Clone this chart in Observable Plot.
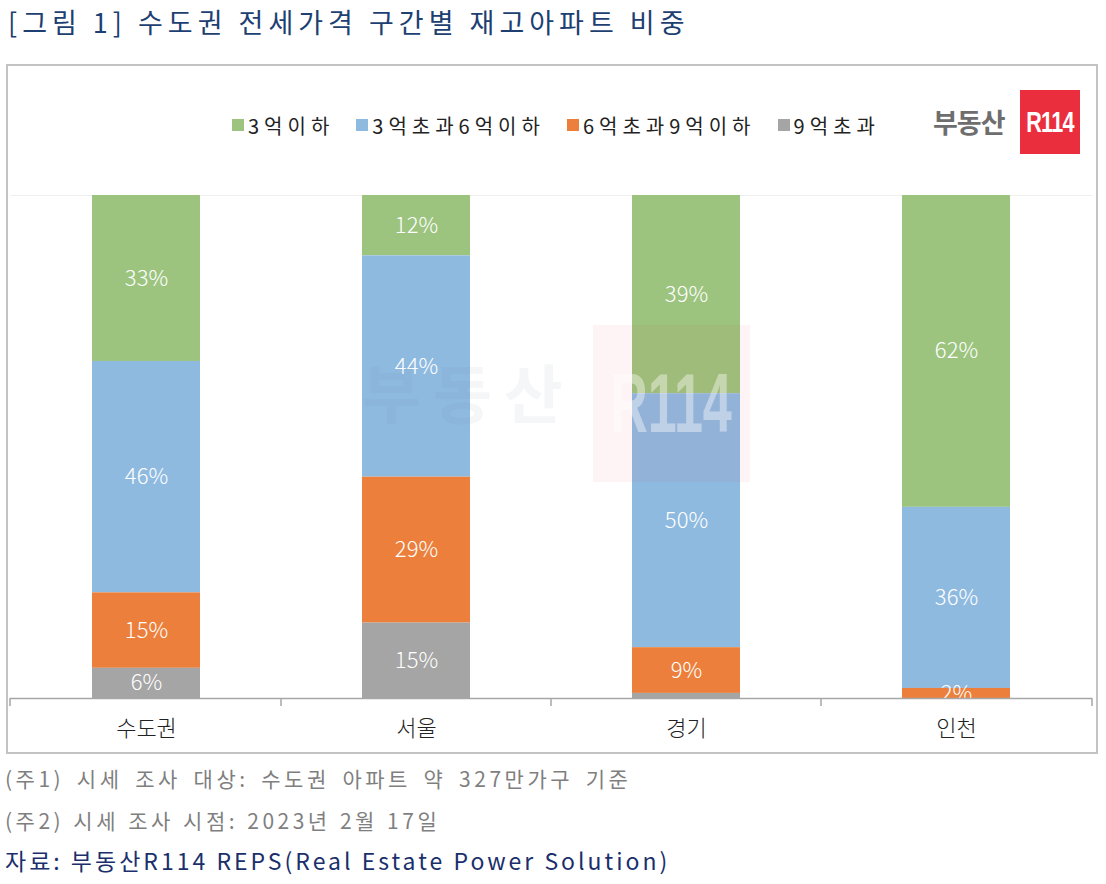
<!DOCTYPE html>
<html><head><meta charset="utf-8">
<script src="https://cdn.jsdelivr.net/npm/d3@7"></script>
<script src="https://cdn.jsdelivr.net/npm/@observablehq/plot@0.6"></script>
<style>
body{margin:0;width:1106px;height:884px;position:relative;background:#fff;font-family:"Noto Sans CJK KR","Noto Sans",sans-serif;overflow:hidden}
#title{position:absolute;left:8px;top:2px;font-size:27px;line-height:40px;color:#1d3f72;letter-spacing:5px;white-space:nowrap}
#box{position:absolute;left:6px;top:64px;width:1092px;height:690px;border:2px solid #c3c3c3;box-sizing:border-box}
#chart{position:absolute;left:0;top:160px}
#legend{position:absolute;left:232px;top:108px;height:34px}
#legend .lg-swatches{font-size:20px !important;font-family:"Noto Sans CJK KR",sans-serif !important;color:#222;letter-spacing:5px;min-height:34px;display:flex;align-items:center;flex-wrap:nowrap !important;white-space:nowrap}
#legend .lg-swatch{margin-right:22px !important;display:inline-flex;align-items:center}
#legend .lg-swatch > svg{margin-right:4px !important}
#logo-t{position:absolute;left:933px;top:100px;font-size:27px;line-height:44px;font-weight:bold;color:#6e6e6e;letter-spacing:-1px}
#logo-r{position:absolute;left:1020px;top:90px;width:60px;height:64px;background:#ea2e3e;overflow:hidden}
#logo-r span{position:absolute;left:30px;top:0;transform:translateX(-50%) scaleX(0.72);color:#fff;font-family:"Liberation Sans","DejaVu Sans",sans-serif;font-size:30px;font-weight:bold;line-height:64px;letter-spacing:-1px;white-space:nowrap}
.wm{position:absolute;pointer-events:none}
#wm-t{left:362px;top:345px;font-size:64px;font-weight:bold;color:rgba(90,110,140,0.06);line-height:90px;letter-spacing:12px;white-space:nowrap}
#wm-r{left:593px;top:325px;width:157px;height:157px;background:rgba(234,46,62,0.05);overflow:hidden}
#wm-r span{position:absolute;left:78px;top:0;transform:translateX(-50%) scaleX(0.62);color:rgba(255,255,255,0.4);font-size:84px;font-weight:bold;line-height:157px;font-family:"Liberation Sans",sans-serif;white-space:nowrap}
.note{position:absolute;left:5px;font-size:21px;color:#7f7f7f;letter-spacing:3.5px;white-space:nowrap;line-height:28px}
#src{position:absolute;left:5px;top:845px;font-size:23px;color:#1a2f6c;letter-spacing:3px;white-space:nowrap;line-height:30px}
</style></head>
<body>
<div id="title">[그림 1] 수도권 전세가격 구간별 재고아파트 비중</div>
<div id="box"></div>
<div id="legend"></div>
<div id="logo-t">부동산</div>
<div id="logo-r"><span>R114</span></div>
<div id="chart"></div>
<div class="wm" id="wm-t">부동산</div>
<div class="wm" id="wm-r"><span>R114</span></div>
<div class="note" style="top:764px;word-spacing:4.5px">(주1) 시세 조사 대상: 수도권 아파트 약 327만가구 기준</div>
<div class="note" style="top:806px;word-spacing:1px">(주2) 시세 조사 시점: 2023년 2월 17일</div>
<div id="src">자료: 부동산R114 REPS(Real Estate Power Solution)</div>
<script>
const categories = ["수도권", "서울", "경기", "인천"];
const series = ["3억이하", "3억초과6억이하", "6억초과9억이하", "9억초과"];
const colors = ["#9cc47f", "#8fbae0", "#ec7f3b", "#a5a5a5"];
const under3 = [33, 12, 39, 62];
const from3to6 = [46, 44, 50, 36];
const from6to9 = [15, 29, 9, 2];
const over9 = [6, 15, 1, 0];

const valuesBySeries = [under3, from3to6, from6to9, over9];
const data = [];
categories.forEach((c, i) => {
  series.forEach((s, j) => data.push({cat: c, series: s, value: valuesBySeries[j][i]}));
});
const stackOrder = series.slice().reverse();

const boundaryTicks = (index, scales, values, dims) => {
  const x = scales.x;
  const bw = typeof x.bandwidth === "function" ? x.bandwidth() : x.bandwidth;
  const xs = [dims.marginLeft];
  for (let i = 0; i < categories.length - 1; i++) {
    xs.push((x(categories[i]) + x(categories[i + 1])) / 2 + bw / 2);
  }
  xs.push(dims.width - dims.marginRight);
  const y0 = scales.y(0);
  const g = d3.create("svg:g");
  g.selectAll("line").data(xs).join("line")
    .attr("x1", d => d).attr("x2", d => d)
    .attr("y1", y0).attr("y2", y0 + 8)
    .attr("stroke", "#a6a6a6").attr("stroke-width", 1.5);
  return g.node();
};

const chart = Plot.plot({
  width: 1106,
  height: 590,
  marginLeft: 10,
  marginRight: 14,
  marginTop: 35,
  marginBottom: 52,
  style: {fontFamily: "'Noto Sans CJK KR', sans-serif", overflow: "visible", background: "transparent"},
  x: {domain: categories, paddingInner: 0.6, paddingOuter: 0.3, axis: null, label: null},
  y: {domain: [0, 1], axis: null},
  color: {domain: series, range: colors},
  marks: [
    Plot.ruleY([1], {stroke: "#efefef", strokeWidth: 1}),
    Plot.barY(data, Plot.stackY({x: "cat", y: "value", fill: "series", order: stackOrder, offset: "normalize"})),
    Plot.text(data, Plot.stackY({
      x: "cat", y: "value", z: "series", order: stackOrder, offset: "normalize",
      text: d => d.value >= 2 ? d.value + "%" : "",
      fill: "white", fontSize: 22, fontWeight: 300, letterSpacing: 1
    })),
    Plot.ruleY([0], {stroke: "#a6a6a6", strokeWidth: 1.5}),
    boundaryTicks,
    Plot.axisX({domain: categories, label: null, tickSize: 0, tickPadding: 22, fontSize: 22, fontWeight: 300, fill: "#222", letterSpacing: 8})
  ]
});
document.getElementById("chart").appendChild(chart);

const lg = Plot.legend({color: {domain: series, range: colors}, swatchSize: 12, className: "lg"});
document.getElementById("legend").appendChild(lg);
</script>
</body></html>
